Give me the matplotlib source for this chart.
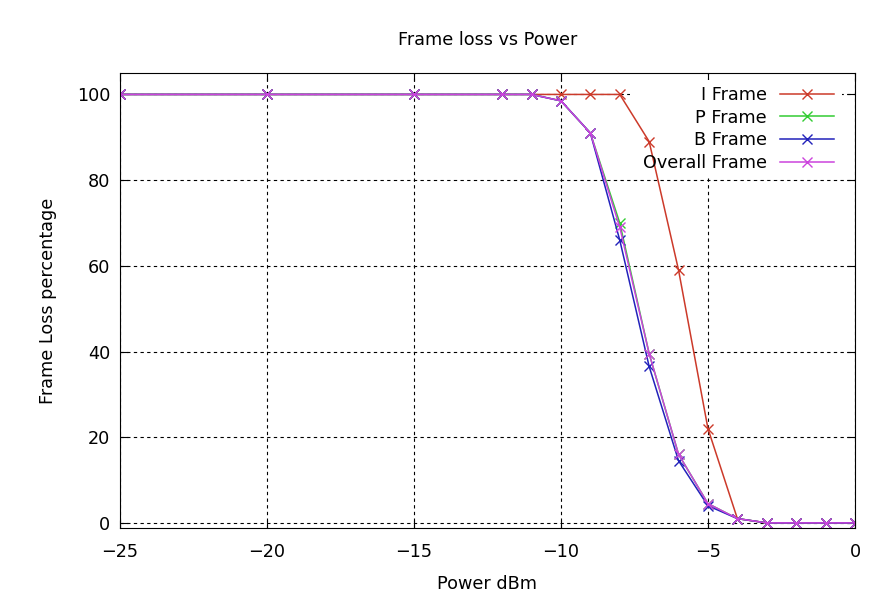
import numpy as np
import matplotlib.pyplot as plt
from matplotlib.patches import Rectangle

# Power levels (dBm)
power = [-25, -20, -15, -12, -11, -10, -9, -8, -7, -6, -5, -4, -3, -2, -1, 0]

# Frame loss percentages
i_frame = [100, 100, 100, 100, 100, 100, 100, 100, 89, 59, 22, 1, 0, 0, 0, 0]
p_frame = [100, 100, 100, 100, 100, 98.5, 91, 70, 39.5, 16, 4.5, 1, 0, 0, 0, 0]
b_frame = [100, 100, 100, 100, 100, 98.5, 91, 66, 36.5, 14.5, 4, 1, 0, 0, 0, 0]
overall = [100, 100, 100, 100, 100, 98.5, 91, 69, 39.5, 16, 4.5, 1, 0, 0, 0, 0]

fs = 12.7

fig = plt.figure(figsize=(8.7, 5.99), dpi=100)
ax = fig.add_axes([0.1379, 0.1185, 0.8448, 0.7596])

ax.plot(power, i_frame, color='#cc3a2a', marker='x', markersize=7, lw=1.1, label='I Frame')
ax.plot(power, p_frame, color='#33cc33', marker='x', markersize=7, lw=1.1, label='P Frame')
ax.plot(power, b_frame, color='#2222bb', marker='x', markersize=7, lw=1.1, label='B Frame')
ax.plot(power, overall, color='#cc44dd', marker='x', markersize=7, lw=1.1, label='Overall Frame')

ax.set_xlim(-25, 0)
ax.set_ylim(-1.2, 105)
ax.set_xticks(np.arange(-25, 1, 5))
ax.set_yticks(np.arange(0, 101, 20))
ax.grid(True, color='black', linestyle=(0, (3, 3)), linewidth=0.8)
ax.tick_params(direction='in', top=True, right=True, labelsize=fs, length=6)
ax.tick_params(axis='x', pad=11)
ax.tick_params(axis='y', pad=7)

# key area blanks out the grid (but not the data lines), gnuplot style
ax.add_patch(Rectangle((0.694, 0.771), 0.288, 0.214, transform=ax.transAxes,
                       facecolor='white', edgecolor='none', zorder=1.7))

ax.set_xlabel('Power dBm', fontsize=fs, labelpad=10)
ax.set_ylabel('Frame Loss percentage', fontsize=fs, labelpad=14)
ax.set_title('Frame loss vs Power', fontsize=fs, pad=20)

ax.legend(loc='upper right', bbox_to_anchor=(0.9714, 0.972), frameon=False,
          markerfirst=False, fontsize=fs, handlelength=3.07, handletextpad=0.74,
          labelspacing=0.27, borderaxespad=0, borderpad=0)

fig.savefig('out.png', dpi=100)
